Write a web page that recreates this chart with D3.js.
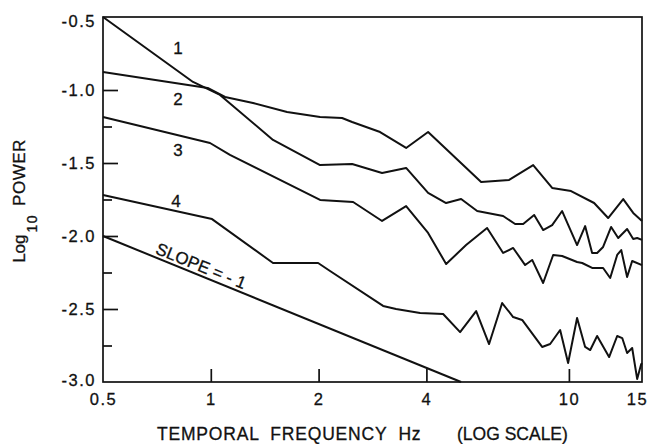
<!DOCTYPE html>
<html>
<head>
<meta charset="utf-8">
<script src="https://cdn.jsdelivr.net/npm/d3@7"></script>
<style>
  html, body { margin: 0; padding: 0; background: #fff; }
  svg { display: block; font-family: "Liberation Sans", Arial, Helvetica, sans-serif; }
  text { stroke: #111; stroke-width: 0.3px; }
</style>
</head>
<body>
<svg id="chart" width="659" height="444"></svg>
<script>
// ---- data (frequency Hz, log10 power) ----
const freqTicks = [0.5, 1, 2, 4, 10, 15];
const powerTicks = [-0.5, -1.0, -1.5, -2.0, -2.5, -3.0];
const minorPowerTicks = [-1.25, -1.75, -2.25, -2.75];

const series1 = [
  [0.5,-0.50],[0.892,-0.945],[1.061,-1.034],[1.492,-1.342],[2.019,-1.514],[2.481,-1.507],
  [3.008,-1.568],[3.511,-1.534],[4.044,-1.705],[4.541,-1.774],[5.0,-1.747],[5.544,-1.829],
  [6.551,-1.863],[7.077,-1.918],[7.452,-1.918],[7.998,-1.856],[8.473,-1.959],[8.979,-1.925],
  [9.574,-1.829],[10.54,-2.062],[11.10,-1.932],[11.61,-2.116],[11.99,-2.116],[12.46,-2.075],
  [13.12,-1.938],[13.73,-2.014],[14.54,-1.952],[15.12,-2.021],[15.51,-2.014],[16.0,-2.027]
];
const series2 = [
  [0.5,-0.877],[0.98,-0.986],[1.096,-1.048],[1.312,-1.089],[1.633,-1.151],[2.019,-1.185],
  [2.326,-1.192],[2.481,-1.219],[2.970,-1.288],[3.511,-1.397],[4.044,-1.288],[5.687,-1.630],
  [6.809,-1.616],[7.947,-1.514],[8.979,-1.671],[10.14,-1.692],[11.76,-1.774],[12.87,-1.877],
  [14.18,-1.747],[15.12,-1.842],[16.0,-1.897]
];
const series3 = [
  [0.5,-1.185],[0.995,-1.363],[1.131,-1.445],[2.019,-1.753],[2.497,-1.767],[3.008,-1.897],
  [3.511,-1.795],[4.044,-1.979],[4.541,-2.192],[5.163,-2.062],[5.909,-1.945],[6.551,-2.116],
  [6.988,-2.082],[7.548,-2.199],[7.896,-2.164],[8.473,-2.322],[9.037,-2.130],[9.574,-2.137],
  [10.54,-2.178],[10.89,-2.185],[11.61,-2.219],[12.46,-2.219],[13.04,-2.288],[13.64,-2.130],
  [14.00,-2.096],[14.54,-2.281],[15.02,-2.171],[16.0,-2.199]
];
const series4 = [
  [0.5,-1.719],[1.008,-1.884],[1.492,-2.185],[1.994,-2.185],[2.153,-2.240],[3.028,-2.479],
  [3.291,-2.500],[3.841,-2.527],[4.454,-2.534],[4.968,-2.658],[5.508,-2.514],[5.985,-2.740],
  [6.510,-2.459],[6.988,-2.555],[7.404,-2.575],[8.419,-2.760],[8.864,-2.740],[9.452,-2.644],
  [9.949,-2.870],[10.54,-2.562],[11.10,-2.760],[11.47,-2.781],[11.99,-2.685],[12.95,-2.829],
  [13.64,-2.685],[14.09,-2.699],[14.54,-2.801],[15.02,-2.767],[15.51,-2.979],[15.92,-2.877],
  [16.0,-2.870]
];
const slopeLine = [[0.5,-2.0],[5.0,-3.0]];
const seriesLabels = [
  {text:"1", f:0.81, v:-0.712},
  {text:"2", f:0.81, v:-1.062},
  {text:"3", f:0.81, v:-1.411},
  {text:"4", f:0.80, v:-1.760}
];
const slopeLabel = {text:"SLOPE = - 1", f:0.69};

// ---- layout ----
const svg = d3.select("#chart");
const L = 103, R = 642, T = 17, B = 382;
const x = d3.scaleLog().domain([0.5, 16]).range([L, R]);
const y = d3.scaleLinear().domain([-3.0, -0.5]).range([B, T]);

// frame
svg.append("rect").attr("x", L).attr("y", T).attr("width", R - L).attr("height", B - T)
  .attr("fill", "none").attr("stroke", "#111").attr("stroke-width", 1.7);

// y axis major
const yAxis = svg.append("g").attr("transform", `translate(${L},0)`)
  .call(d3.axisLeft(y).tickValues(powerTicks).tickSize(-15).tickPadding(7)
    .tickFormat(d => d.toFixed(1)).tickSizeOuter(0));
yAxis.select(".domain").remove();
yAxis.selectAll(".tick line").attr("stroke", "#111").attr("stroke-width", 1.7)
  .attr("display", d => (d === -0.5 || d === -3.0) ? "none" : null);
yAxis.selectAll(".tick text").attr("font-size", 16.5).attr("fill", "#111")
  .attr("letter-spacing", 1.5).attr("font-family", "Liberation Sans, Arial, sans-serif")
  .attr("dy", d => d === -0.5 ? "0.6em" : (d === -3.0 ? "0.22em" : "0.35em"));

// y axis minor
const yMinor = svg.append("g").attr("transform", `translate(${L},0)`)
  .call(d3.axisLeft(y).tickValues(minorPowerTicks).tickSize(-9).tickFormat(""));
yMinor.select(".domain").remove();
yMinor.selectAll(".tick line").attr("stroke", "#111").attr("stroke-width", 1.7);

// x axis
const xAxis = svg.append("g").attr("transform", `translate(0,${B})`)
  .call(d3.axisBottom(x).tickValues(freqTicks).tickSize(-13).tickPadding(11)
    .tickFormat(d => String(d)).tickSizeOuter(0));
xAxis.select(".domain").remove();
xAxis.selectAll(".tick line").attr("stroke", "#111").attr("stroke-width", 1.7)
  .attr("display", d => (d === 0.5 || d === 15) ? "none" : null);
xAxis.selectAll(".tick text").attr("font-size", 16.5).attr("fill", "#111")
  .attr("letter-spacing", 1.5).attr("font-family", "Liberation Sans, Arial, sans-serif")
  .attr("dx", d => d === 15 ? 5 : 0);

// lines
const line = d3.line().x(d => x(d[0])).y(d => y(d[1]));
[series1, series2, series3, series4, slopeLine].forEach(s => {
  svg.append("path").datum(s).attr("d", line)
    .attr("fill", "none").attr("stroke", "#111").attr("stroke-width", 2)
    .attr("stroke-linejoin", "round");
});

// series labels
svg.selectAll(".slabel").data(seriesLabels).enter().append("text")
  .attr("x", d => x(d.f)).attr("y", d => y(d.v)).attr("dy", "0.35em")
  .attr("text-anchor", "middle").attr("font-size", 17).attr("fill", "#111")
  .text(d => d.text);

// slope label
const sv = -2.0 - Math.log10(slopeLabel.f / 0.5);
const ang = Math.atan2(y(slopeLine[1][1]) - y(slopeLine[0][1]), x(slopeLine[1][0]) - x(slopeLine[0][0])) * 180 / Math.PI;
svg.append("text")
  .attr("transform", `translate(${x(slopeLabel.f)},${y(sv)}) rotate(${ang})`)
  .attr("dy", -3.5).attr("font-size", 17).attr("fill", "#111")
  .text(slopeLabel.text);

// axis titles
svg.append("text").attr("x", 157).attr("y", 440).attr("font-size", 17.5).attr("fill", "#111")
  .attr("letter-spacing", 0.8).attr("xml:space", "preserve").text("TEMPORAL  FREQUENCY  Hz");
svg.append("text").attr("x", 457).attr("y", 440).attr("font-size", 17.5).attr("fill", "#111")
  .text("(LOG SCALE)");

const yt = svg.append("text").attr("transform", "translate(25,201) rotate(-90)")
  .attr("text-anchor", "middle").attr("font-size", 17).attr("fill", "#111");
yt.append("tspan").text("Log");
yt.append("tspan").attr("font-size", 14).attr("dy", 12).attr("dx", 2).attr("letter-spacing", 1.5).text("10");
yt.append("tspan").attr("dy", -12).attr("dx", 8).attr("letter-spacing", 0.5).text("POWER");
</script>
</body>
</html>
